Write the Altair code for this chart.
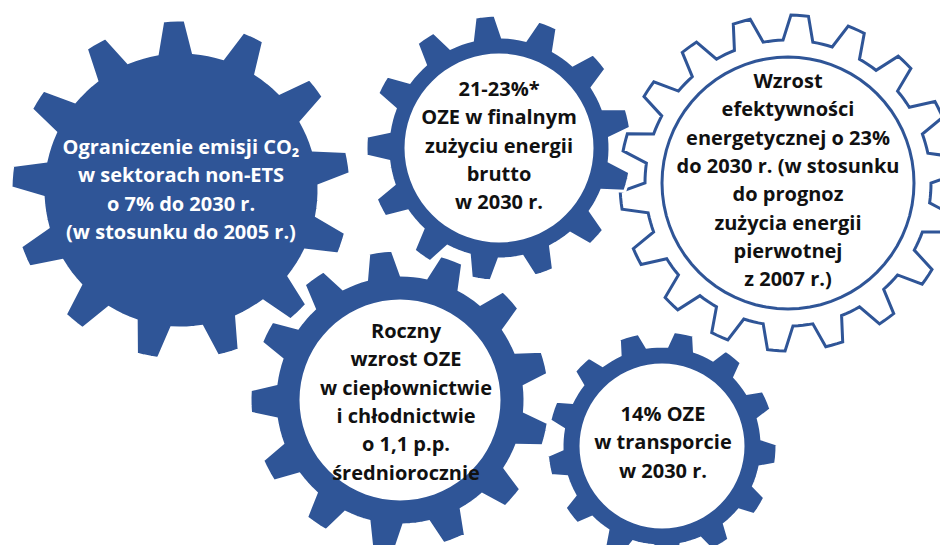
import math
import altair as alt

BLUE = "#2F5597"

# ---- gear geometry (pixel coordinates) ----
# drawing order: outline gear first so the solid gears sit on top of it
gear_cx = [788, 181, 499, 400, 662]
gear_cy = [183, 190, 148, 400, 446]
gear_tip_r = [168, 170, 133, 150, 115]
gear_root_r = [143, 138, 111, 125, 100]
gear_hole_r = [126, 0, 93, 99, 81]
gear_teeth = [18, 13, 13, 13, 13]
gear_phase = [46, 92.4, 13, 97.5, -4]
tooth_base_deg = [12, 15, 15.5, 16, 16]
tooth_tip_deg = [6, 7.5, 8.5, 9, 10]
gear_kind = ["outline", "solid", "ring", "ring", "ring"]

# ---- texts (x = centre of the lines, y = first line) ----
label_text = [
    "Wzrost\nefektywności\nenergetycznej o 23%\ndo 2030 r. (w stosunku\ndo prognoz\nzużycia energii\npierwotnej\nz 2007 r.)",
    "Ograniczenie emisji CO\u2082\nw sektorach non-ETS\no 7% do 2030 r.\n(w stosunku do 2005 r.)",
    "21-23%*\nOZE w finalnym\nzużyciu energii\nbrutto\nw 2030 r.",
    "Roczny\nwzrost OZE\nw ciepłownictwie\ni chłodnictwie\no 1,1 p.p.\nśredniorocznie",
    "14% OZE\nw transporcie\nw 2030 r.",
]
label_x = [788, 181, 499, 406, 663]
label_y = [82, 148, 90, 332, 415]
label_tone = ["dark", "light", "dark", "dark", "dark"]


def pt(cx, cy, r, deg):
    a = math.radians(deg)
    return [cx + r * math.cos(a), cy - r * math.sin(a)]


def gear_outline(i):
    cx, cy = gear_cx[i], gear_cy[i]
    rt, rr = gear_tip_r[i], gear_root_r[i]
    n = gear_teeth[i]
    step = 360.0 / n
    base, tip = tooth_base_deg[i], tooth_tip_deg[i]
    ring = []
    for k in range(n):
        a = gear_phase[i] + k * step
        start = a - step + base / 2.0
        end = a - base / 2.0
        for j in range(5):
            ring.append(pt(cx, cy, rr, start + (end - start) * j / 4.0))
        for j in range(4):
            ring.append(pt(cx, cy, rt, a - tip / 2.0 + tip * j / 3.0))
    ring.append(ring[0])
    return ring


def circle(cx, cy, r):
    ring = [pt(cx, cy, r, d * 5) for d in range(72)]
    ring.append(ring[0])
    return ring


features = []
for i in range(len(gear_cx)):
    body_role = "outline" if gear_kind[i] == "outline" else "solid"
    features.append({"type": "Feature", "properties": {"role": body_role},
                     "geometry": {"type": "Polygon", "coordinates": [gear_outline(i)]}})
    if gear_hole_r[i] > 0:
        hole_role = "outline" if gear_kind[i] == "outline" else "hole"
        features.append({"type": "Feature", "properties": {"role": hole_role},
                         "geometry": {"type": "Polygon",
                                      "coordinates": [circle(gear_cx[i], gear_cy[i], gear_hole_r[i])]}})

proj = dict(type="identity", scale=1, translate=[-8, -8])

gears = alt.Chart(alt.Data(values=features)).mark_geoshape(strokeWidth=3).encode(
    fill=alt.Fill("properties.role:N",
                  scale=alt.Scale(domain=["solid", "hole", "outline"], range=[BLUE, "white", "white"]),
                  legend=None),
    stroke=alt.Stroke("properties.role:N",
                      scale=alt.Scale(domain=["solid", "hole", "outline"], range=["white", "white", BLUE]),
                      legend=None),
).project(**proj)

label_rows = [{"x": label_x[i], "y": label_y[i], "t": label_text[i], "tone": label_tone[i]}
              for i in range(len(label_text))]

texts = alt.Chart(alt.Data(values=label_rows)).mark_text(
    font="Open Sans", fontWeight="bold", fontSize=20, lineBreak="\n", lineHeight=28.3,
    align="center", baseline="middle"
).encode(
    longitude="x:Q",
    latitude="y:Q",
    text="t:N",
    color=alt.Color("tone:N", scale=alt.Scale(domain=["light", "dark"], range=["white", "#111111"]),
                    legend=None),
).project(**proj)

chart = alt.layer(gears, texts).properties(
    width=932, height=537, padding=0, background="white"
).configure_view(stroke=None)

chart.save("out.html", embed_options={"renderer": "svg", "actions": False})
